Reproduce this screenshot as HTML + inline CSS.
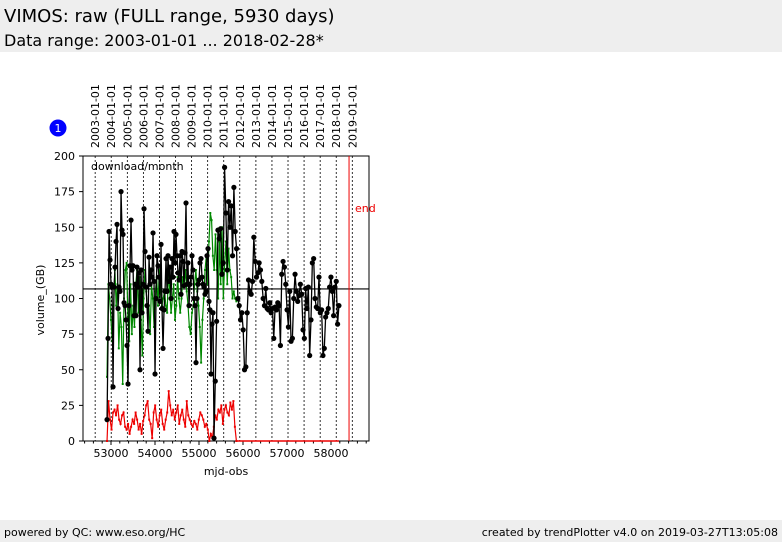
<!DOCTYPE html>
<html><head><meta charset="utf-8"><style>
body{margin:0;width:782px;height:542px;background:#fff;font-family:"DejaVu Sans","Liberation Sans",sans-serif;overflow:hidden;position:relative}
.hdr{position:absolute;left:0;top:0;width:782px;height:52px;background:#eeeeee}
.ftr{position:absolute;left:0;top:520px;width:782px;height:22px;background:#eeeeee;font-size:11px}
</style></head><body>
<div class="hdr">
<div style="position:absolute;left:4px;top:6px;font-size:18px">VIMOS: raw (FULL range, 5930 days)</div>
<div style="position:absolute;left:4px;top:31px;font-size:16px">Data range: 2003-01-01 ... 2018-02-28*</div>
</div>
<div class="ftr">
<span style="position:absolute;left:4px;top:6px">powered by QC: www.eso.org/HC</span>
<span style="position:absolute;right:4px;top:6px">created by trendPlotter v4.0 on 2019-03-27T13:05:08</span>
</div>
<svg id="chart" width="782" height="542" style="position:absolute;left:0;top:0" font-family="DejaVu Sans, Liberation Sans, sans-serif"></svg>
<script>
const yTicks=[0,25,50,75,100,125,150,175,200];
const xTicks=[53000,54000,55000,56000,57000,58000];
const years=[2003,2004,2005,2006,2007,2008,2009,2010,2011,2012,2013,2014,2015,2016,2017,2018,2019];
const blackAStart=52910, blackAEnd=55341;
const blackAVals=[15,72,147,127,110,108,38,108,122,140,152,93,108,105,175,148,145,97,95,85,67,40,95,123,155,120,123,88,110,88,122,108,118,50,120,90,110,163,133,108,95,77,129,110,120,115,146,112,47,100,130,123,115,98,138,93,65,92,105,128,105,130,112,122,100,128,115,147,125,145,130,118,113,130,103,133,126,109,132,167,110,125,95,110,115,130,120,100,95,55,100,110,113,125,128,115,110,108,103,105,130,135,98,92,47,82,90,2];
const blackBStart=55370, blackBEnd=58180;
const blackBVals=[42,84,148,142,149,117,125,192,160,120,168,150,165,130,178,147,135,100,95,85,90,78,50,52,90,113,105,103,112,143,126,115,118,125,120,112,100,95,107,93,92,97,90,93,72,94,92,97,95,67,117,126,122,110,92,80,105,70,72,100,117,105,98,102,110,103,78,72,107,93,108,60,85,125,128,100,94,93,115,90,92,60,65,87,90,93,108,115,105,88,108,112,82,95];
const greenStart=52910, greenEnd=55850;
const greenVals=[45,110,100,85,70,95,120,95,110,65,90,80,40,100,120,125,85,70,110,75,95,80,110,120,90,115,85,60,100,120,105,90,95,75,110,100,80,105,115,95,120,110,95,100,105,95,90,120,105,90,100,110,85,95,115,100,90,100,115,110,120,105,95,80,75,90,95,110,120,105,95,80,55,85,100,120,130,110,140,160,155,130,120,145,120,100,140,110,150,100,125,140,110,135,120,115,100,105,100,98];
const redStart=52910, redEnd=55850;
const redVals=[0,28,15,8,20,22,18,25,15,12,18,20,10,8,12,5,10,15,12,20,15,8,12,5,14,18,25,28,15,12,2,20,25,15,10,18,22,12,8,15,20,35,25,18,22,15,20,25,12,18,22,15,10,28,18,15,12,10,14,12,8,15,20,18,15,10,12,8,0,5,2,10,18,15,22,20,25,12,22,25,20,18,27,22,28,10,0];
const redTailX=[55850,58180], redTailVals=[0,0];
const refLine=106.7, endMjd=58410;

const X0=83,X1=369,Y0=441,Y1=156;
const xs=m=>111+(m-53000)*0.044;
const ys=v=>Y0-(v/200)*(Y0-Y1);
const svg=document.getElementById('chart');
const NS='http://www.w3.org/2000/svg';
function mk(t,a,p){const e=document.createElementNS(NS,t);for(const k in a)e.setAttribute(k,a[k]);(p||svg).appendChild(e);return e;}
years.forEach(y=>{
 const m=40587+(Date.UTC(y,0,1)/86400000);
 const x=xs(m);
 const l=mk('line',{x1:x,x2:x,y1:Y1,y2:Y0,stroke:'#000','stroke-width':0.8,'stroke-dasharray':'2,2'});
 
 
 const t=mk('text',{x:0,y:0,'font-size':11,transform:`translate(${x+4},148) rotate(-90)`});
 t.textContent=y+'-01-01';
 
 
});
const fr=mk('rect',{x:X0,y:Y1,width:X1-X0,height:Y0-Y1,fill:'none',stroke:'#000','stroke-width':1});


yTicks.forEach(v=>{
 const y=ys(v);
 mk('line',{x1:X0-4,x2:X0,y1:y,y2:y,stroke:'#000'});
 const t=mk('text',{x:X0-8,y:y+4,'font-size':11,'text-anchor':'end'});
 t.textContent=v;
 
 
});
for(let m=52400;m<=58800;m+=200){const x=xs(m);if(x<X0||x>X1)continue;mk('line',{x1:x,x2:x,y1:Y0,y2:Y0+(m%1000===0?4:2.5),stroke:'#000'});}
xTicks.forEach(m=>{
 const t=mk('text',{x:xs(m),y:Y0+16,'font-size':11,'text-anchor':'middle'});
 t.textContent=m;
 
 
});
const xl=mk('text',{x:226,y:475,'font-size':11,'text-anchor':'middle'});xl.textContent='mjd-obs';


const yl=mk('text',{x:0,y:0,'font-size':11,'text-anchor':'middle',transform:'translate(44,300) rotate(-90)'});yl.textContent='volume_(GB)';


const dl=mk('text',{x:91,y:170,'font-size':11});dl.textContent='download/month';


const rl=mk('line',{x1:X0,x2:X1,y1:ys(refLine),y2:ys(refLine),stroke:'#000','stroke-width':1.2});


const el=mk('line',{x1:xs(endMjd),x2:xs(endMjd),y1:Y1,y2:Y0,stroke:'#e00','stroke-width':1});


const et=mk('text',{x:355,y:212,'font-size':11,fill:'#e00'});et.textContent='end';


function ser(vals,s,e){const st=(e-s)/(vals.length-1);return vals.map((v,i)=>[xs(s+i*st),ys(v)]);}
function poly(pts,color,w,name){const p=mk('polyline',{points:pts.map(p=>p.join(',')).join(' '),fill:'none',stroke:color,'stroke-width':w});
 
 }
const gp=ser(greenVals,greenStart,greenEnd);
poly(gp,'#080',1.2,'green-series-line');
gp.forEach(p=>{const c=mk('rect',{x:p[0]-1,y:p[1]-1,width:2,height:2,fill:'#080'});
 
 });
const rp=ser(redVals,redStart,redEnd);
poly(rp,'#e00',1.2,'red-series-line');
rp.forEach(p=>{const c=mk('rect',{x:p[0]-1,y:p[1]-1,width:2,height:2,fill:'#e00'});
 
 });
poly(redTailX.map((m,i)=>[xs(m),ys(redTailVals[i])]),'#e00',1.5,'red-series-tail');
const bp=ser(blackAVals,blackAStart,blackAEnd).concat(ser(blackBVals,blackBStart,blackBEnd));
poly(bp,'#000',1.3,'black-series-line');
bp.forEach(p=>{const c=mk('circle',{cx:p[0],cy:p[1],r:2.6,fill:'#000'});
 
 });
const bc=mk('circle',{cx:58,cy:128,r:8.5,fill:'#00f'});


const bt=mk('text',{x:58,y:132,'font-size':11,fill:'#fff','text-anchor':'middle'});bt.textContent='1';


</script>
</body></html>
